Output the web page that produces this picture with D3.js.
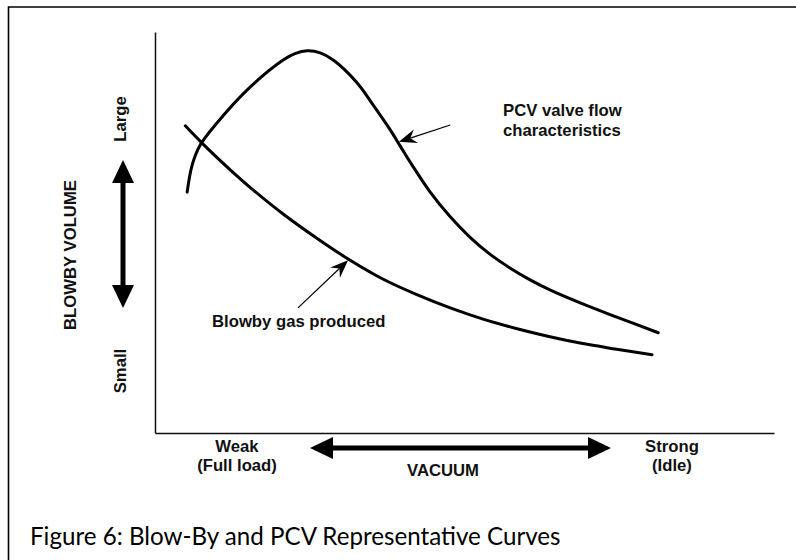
<!DOCTYPE html>
<html>
<head>
	<meta charset="utf-8">
	<title>Blow-By and PCV Representative Curves</title>
	<script src="https://d3js.org/d3.v7.min.js"></script>
	<style>
		body { margin: 0; background: #fff; }
		svg { display: block; }
	</style>
</head>
<body>
	<svg width="796" height="560"></svg>

	<script type="text/javascript">
		// x = vacuum (0 weak .. 100 strong), y = blowby volume (0 small .. 100 large)
		var pcvX = [5.2, 6.0, 7.3, 10.0, 15.4, 20.7, 22.6, 24.6, 26.7, 28.8, 32.6, 35.2, 38.0, 39.6, 41.2, 44.4, 47.7, 50.9, 54.1, 57.4, 60.6, 63.8, 69.1, 74.6, 81.3];
		var pcvY = [60.1, 66.8, 71.8, 77.3, 86.3, 93.0, 94.6, 95.3, 94.8, 93.0, 87.4, 81.9, 75.6, 71.6, 67.6, 60.2, 53.9, 48.8, 44.6, 41.1, 38.2, 35.7, 32.2, 28.9, 25.0];

		var blowbyX = [4.9, 7.6, 12.6, 15.4, 20.7, 26.2, 31.2, 36.8, 42.3, 47.7, 53.0, 58.5, 63.8, 69.1, 74.6, 80.3];
		var blowbyY = [76.6, 72.3, 65.0, 61.2, 54.6, 48.5, 43.4, 38.4, 34.5, 31.2, 28.4, 26.0, 24.0, 22.3, 20.9, 19.5];

		var seriesLabels = ["PCV valve flow", "characteristics", "Blowby gas produced"];
		var xEndLabels = [["Weak", "(Full load)"], ["Strong", "(Idle)"]];
		var xTitle = "VACUUM";
		var yEndLabels = ["Large", "Small"];
		var yTitle = "BLOWBY VOLUME";
		var caption = "Figure 6: Blow-By and PCV Representative Curves";

		var svg = d3.select("svg");
		var boldFont = "'Liberation Sans', Arial, sans-serif";

		svg.append("rect").attr("width", 796).attr("height", 560).attr("fill", "#fff");

		// outer frame (left + top edges only are visible)
		svg.append("path")
			.attr("d", "M8.5,560 V7 H796")
			.attr("fill", "none")
			.attr("stroke", "#000")
			.attr("stroke-width", 1.6);

		var x = d3.scaleLinear().domain([0, 100]).range([155, 774]);
		var y = d3.scaleLinear().domain([0, 100]).range([433, 32]);

		// bare axes: domain lines only
		svg.append("g")
			.attr("transform", "translate(0," + y(0) + ")")
			.call(d3.axisBottom(x).tickValues([]).tickSizeOuter(0))
			.select(".domain").attr("stroke", "#111").attr("stroke-width", 1.5);
		svg.append("g")
			.attr("transform", "translate(" + x(0) + ",0)")
			.call(d3.axisLeft(y).tickValues([]).tickSizeOuter(0))
			.select(".domain").attr("stroke", "#111").attr("stroke-width", 1.5);

		var line = d3.line()
			.x(function(d) { return x(d[0]); })
			.y(function(d) { return y(d[1]); })
			.curve(d3.curveCatmullRom.alpha(0.5));

		var pcv = d3.zip(pcvX, pcvY);
		var blowby = d3.zip(blowbyX, blowbyY);

		[pcv, blowby].forEach(function(s) {
			svg.append("path")
				.datum(s)
				.attr("fill", "none")
				.attr("stroke", "#000")
				.attr("stroke-width", 3)
				.attr("stroke-linecap", "round")
				.attr("d", line);
		});

		// thin leader arrows with notched heads
		function leader(x0, y0, x1, y1) {
			var a = Math.atan2(y1 - y0, x1 - x0);
			var ux = Math.cos(a), uy = Math.sin(a);
			var len = 18, half = 7, notch = 12;
			svg.append("line")
				.attr("x1", x0).attr("y1", y0)
				.attr("x2", x1 - ux * notch).attr("y2", y1 - uy * notch)
				.attr("stroke", "#000").attr("stroke-width", 1.2);
			var pts = [
				[x1, y1],
				[x1 - ux * len - uy * half, y1 - uy * len + ux * half],
				[x1 - ux * notch, y1 - uy * notch],
				[x1 - ux * len + uy * half, y1 - uy * len - ux * half]
			];
			svg.append("path").attr("d", "M" + pts.join("L") + "Z").attr("fill", "#000");
		}
		leader(x(47.7), y(76.8), x(39.4), y(72.6));
		leader(x(23.1), y(31.2), x(31.2), y(43.1));

		// thick double-headed arrows
		function bigArrow(x0, y0, x1, y1) {
			var a = Math.atan2(y1 - y0, x1 - x0);
			var ux = Math.cos(a), uy = Math.sin(a);
			var len = 23, half = 11;
			svg.append("line")
				.attr("x1", x0 + ux * len).attr("y1", y0 + uy * len)
				.attr("x2", x1 - ux * len).attr("y2", y1 - uy * len)
				.attr("stroke", "#000").attr("stroke-width", 5);
			[[x0, y0, -1], [x1, y1, 1]].forEach(function(e) {
				var tx = e[0], ty = e[1], s = e[2];
				var bx = tx - s * ux * len, by = ty - s * uy * len;
				svg.append("path")
					.attr("d", "M" + tx + "," + ty + "L" + (bx - uy * half) + "," + (by + ux * half) +
						"L" + (bx + uy * half) + "," + (by - ux * half) + "Z")
					.attr("fill", "#000");
			});
		}
		bigArrow(310, 448, 611, 448);
		bigArrow(123, 160, 123, 308);

		var txt = svg.append("g")
			.attr("font-family", boldFont)
			.attr("font-weight", "bold")
			.attr("font-size", 16.7)
			.attr("fill", "#111");

		txt.append("text").attr("x", 503).attr("y", 116).text(seriesLabels[0]);
		txt.append("text").attr("x", 503).attr("y", 136).text(seriesLabels[1]);
		txt.append("text").attr("x", 212).attr("y", 327).text(seriesLabels[2]);

		[[237, xEndLabels[0]], [672, xEndLabels[1]]].forEach(function(p) {
			txt.append("text").attr("x", p[0]).attr("y", 452).attr("text-anchor", "middle").text(p[1][0]);
			txt.append("text").attr("x", p[0]).attr("y", 471).attr("text-anchor", "middle").text(p[1][1]);
		});
		txt.append("text").attr("x", 443).attr("y", 476).attr("text-anchor", "middle").text(xTitle);

		txt.append("text").attr("transform", "translate(126,119) rotate(-90)").attr("text-anchor", "middle").text(yEndLabels[0]);
		txt.append("text").attr("transform", "translate(126,371) rotate(-90)").attr("text-anchor", "middle").text(yEndLabels[1]);
		txt.append("text").attr("transform", "translate(76,255) rotate(-90)").attr("text-anchor", "middle").text(yTitle);

		var cap = svg.append("text")
			.attr("x", 30).attr("y", 545)
			.attr("font-family", "Lato, 'Open Sans', sans-serif")
			.attr("font-size", 24)
			.attr("fill", "#000")
			.text(caption);
		var w = cap.node().getComputedTextLength();
		cap.attr("font-size", 24 * 531 / w);
	</script>
</body>
</html>
